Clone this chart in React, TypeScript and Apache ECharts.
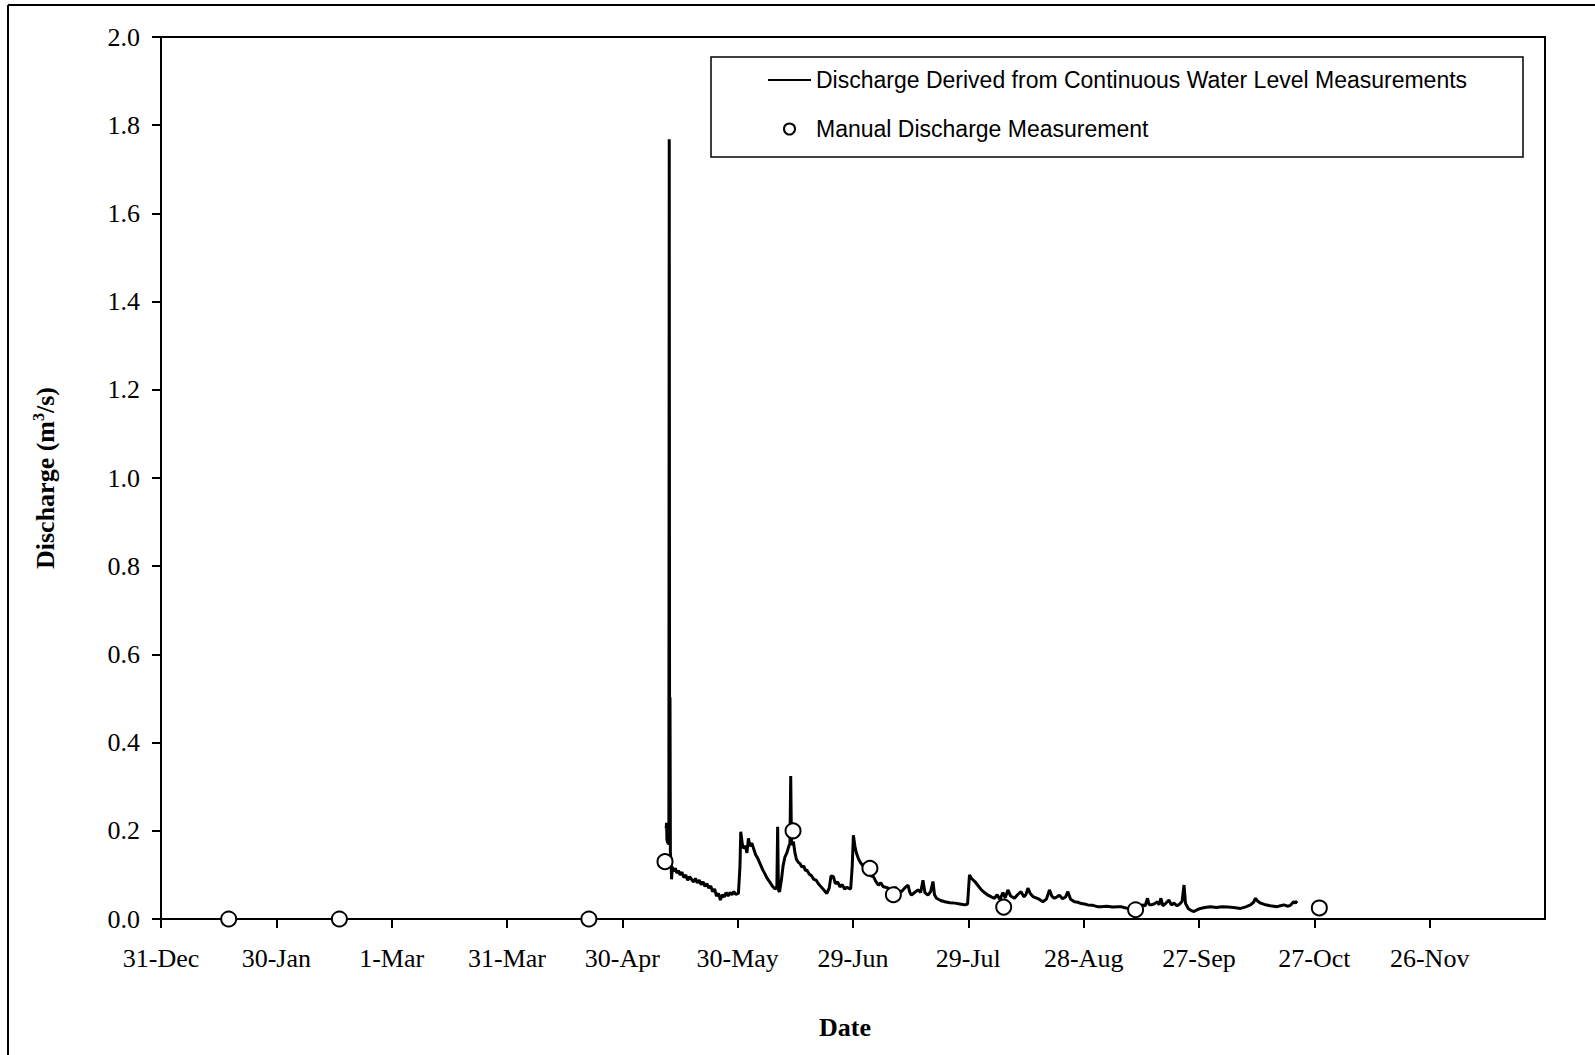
import React, { useEffect, useRef } from "react";
import * as echarts from "echarts";

// X axis: days since 31-Dec
const xTickDays = [0, 30, 60, 90, 120, 150, 180, 210, 240, 270, 300, 330];
const xTickLabels = ["31-Dec", "30-Jan", "1-Mar", "31-Mar", "30-Apr", "30-May", "29-Jun", "29-Jul", "28-Aug", "27-Sep", "27-Oct", "26-Nov"];

// Manual discharge measurements
const manualDays = [17.6, 46.4, 111.3, 131.1, 164.4, 184.4, 190.5, 219.2, 253.5, 301.3];
const manualValues = [0.0, 0.0, 0.0, 0.13, 0.2, 0.115, 0.055, 0.027, 0.021, 0.025];

// Continuous discharge record
const lineDays = [
  131.4, 131.5, 131.6, 131.8, 131.9, 132.0, 132.1, 132.2, 132.3, 132.4, 132.5, 132.7, 132.8, 133.0, 133.4, 133.8,
  134.2, 134.6, 135.0, 135.5, 136.0, 136.5, 137.0, 137.5, 138.0, 138.5, 139.0, 139.5, 140.0, 140.5, 141.0, 141.5,
  142.0, 142.5, 143.0, 143.5, 144.0, 144.5, 145.0, 145.5, 146.0, 146.5, 147.0, 147.5, 148.0, 148.5, 149.0, 149.5,
  150.2, 150.6, 150.8, 151.2, 151.6, 152.0, 152.4, 152.8, 153.2, 153.7, 154.2, 154.7, 155.2, 155.9, 156.5, 157.0,
  157.5, 158.0, 158.5, 159.0, 159.5, 159.9, 160.2, 160.4, 160.6, 160.9, 161.4, 161.8, 162.3, 162.8, 163.2, 163.6,
  163.8, 164.0, 164.5, 164.9, 165.3, 165.8, 166.2, 166.7, 167.2, 167.6, 168.0, 168.6, 169.2, 169.8, 170.4, 171.0,
  171.6, 172.2, 172.8, 173.2, 173.8, 174.3, 174.9, 175.4, 176.0, 176.6, 177.2, 177.8, 178.4, 178.8, 179.4, 179.8,
  180.1, 180.5, 180.9, 181.5, 182.1, 182.7, 183.3, 184.0, 184.6, 185.3, 185.9, 186.6, 187.2, 187.9, 188.5, 189.2,
  189.8, 190.4, 191.0, 191.6, 192.6, 193.4, 194.3, 194.8, 195.2, 196.0, 196.9, 197.6, 198.2, 198.7, 199.5, 200.2,
  200.8, 201.2, 201.7, 202.8, 203.9, 205.2, 206.5, 207.8, 209.1, 209.8, 210.3, 210.8, 211.7, 212.5, 213.4, 214.2,
  215.1, 216.0, 216.8, 217.5, 218.2, 219.0, 219.6, 220.3, 221.0, 222.0, 222.8, 223.7, 224.5, 225.0, 225.5, 226.1,
  226.8, 227.6, 228.4, 229.4, 230.3, 231.1, 231.7, 232.4, 233.0, 233.7, 234.5, 235.3, 235.9, 236.6, 237.6, 238.5,
  239.4, 240.2, 241.1, 242.4, 243.6, 244.5, 246.0, 247.5, 249.0, 249.7, 250.5, 251.4, 252.5, 253.6, 254.5, 255.3,
  256.0, 256.6, 257.0, 257.5, 258.3, 259.2, 259.6, 260.1, 260.6, 261.3, 262.2, 262.8, 263.5, 264.3, 265.0, 265.6,
  266.1, 266.5, 267.2, 268.0, 268.7, 269.5, 270.4, 271.5, 273.0, 274.5, 276.0, 277.5, 279.0, 280.8, 282.0, 283.4,
  284.2, 284.7, 285.3, 286.0, 287.0, 288.5, 290.3, 291.2, 292.1, 293.0, 293.8, 294.6, 295.1, 295.5,
];
const lineValues = [
  0.205, 0.218, 0.18, 0.172, 0.19, 0.175, 0.168, 1.768, 0.17, 0.503, 0.15, 0.127, 0.09, 0.118, 0.108, 0.115,
  0.104, 0.11, 0.1, 0.106, 0.094, 0.1, 0.088, 0.096, 0.09, 0.084, 0.092, 0.082, 0.088, 0.078, 0.084, 0.074,
  0.08, 0.07, 0.075, 0.062, 0.068, 0.052, 0.058, 0.043, 0.055, 0.05, 0.06, 0.052, 0.06, 0.055, 0.062, 0.056,
  0.058, 0.12, 0.198, 0.17, 0.16, 0.166, 0.15, 0.183, 0.165, 0.172, 0.158, 0.145, 0.138, 0.124, 0.112, 0.104,
  0.095, 0.088, 0.082, 0.075, 0.07, 0.068, 0.075, 0.209, 0.065, 0.062, 0.09, 0.12, 0.141, 0.15, 0.162, 0.172,
  0.324, 0.168, 0.175, 0.15, 0.135, 0.128, 0.126, 0.118, 0.12, 0.11, 0.111, 0.102, 0.098, 0.09, 0.088, 0.08,
  0.074, 0.068, 0.062, 0.058, 0.07, 0.098, 0.096, 0.08, 0.084, 0.073, 0.078, 0.068, 0.072, 0.07, 0.068, 0.12,
  0.19, 0.165, 0.149, 0.135, 0.126, 0.119, 0.11, 0.104, 0.098, 0.096, 0.086, 0.077, 0.082, 0.073, 0.072, 0.07,
  0.064, 0.062, 0.072, 0.065, 0.062, 0.07, 0.077, 0.06, 0.054, 0.06, 0.066, 0.06, 0.088, 0.06, 0.054, 0.062,
  0.085, 0.055, 0.047, 0.042, 0.039, 0.037, 0.036, 0.034, 0.032, 0.034, 0.1, 0.092, 0.085, 0.076, 0.066, 0.06,
  0.054, 0.05, 0.047, 0.055, 0.044, 0.06, 0.048, 0.066, 0.052, 0.047, 0.055, 0.062, 0.05, 0.056, 0.07, 0.058,
  0.051, 0.048, 0.045, 0.039, 0.045, 0.066, 0.052, 0.047, 0.05, 0.054, 0.046, 0.05, 0.062, 0.045, 0.039, 0.038,
  0.035, 0.034, 0.032, 0.031, 0.028, 0.028, 0.029, 0.027, 0.028, 0.028, 0.026, 0.024, 0.023, 0.024, 0.027, 0.032,
  0.03, 0.047, 0.033, 0.032, 0.034, 0.039, 0.032, 0.047, 0.03, 0.035, 0.043, 0.032, 0.036, 0.03, 0.034, 0.04,
  0.077, 0.035, 0.024, 0.019, 0.017, 0.021, 0.024, 0.026, 0.028, 0.026, 0.028, 0.027, 0.026, 0.024, 0.027, 0.032,
  0.038, 0.047, 0.04, 0.036, 0.033, 0.03, 0.028, 0.03, 0.032, 0.029, 0.031, 0.039, 0.036, 0.041,
];

const SERIF = '"Times New Roman", "Liberation Serif", serif';
const SANS = 'Arial, "Liberation Sans", sans-serif';

export default function App() {
  const ref = useRef<HTMLDivElement>(null);

  useEffect(() => {
    if (!ref.current) return;
    const chart = echarts.init(ref.current, undefined, { renderer: "svg" });
    const lineData = lineDays.map((d, i) => [d, lineValues[i]]);
    const manualData = manualDays.map((d, i) => [d, manualValues[i]]);

    chart.setOption({
      animation: false,
      backgroundColor: "#ffffff",
      grid: {
        left: 161,
        top: 37,
        width: 1384,
        height: 882,
        show: true,
        borderColor: "#000",
        borderWidth: 2,
        containLabel: false,
        outerBoundsMode: "none",
      },
      legend: {
        orient: "vertical",
        left: 767,
        top: 67,
        itemWidth: 43,
        itemHeight: 11,
        itemGap: 23,
        padding: 0,
        textStyle: { fontFamily: SANS, fontSize: 23, color: "#000", lineHeight: 26 },
        data: [
          { name: "Discharge Derived from Continuous Water Level Measurements", itemStyle: { opacity: 0 } },
          { name: "Manual Discharge Measurement" },
        ],
      },
      xAxis: {
        type: "value",
        min: 0,
        max: 360,
        interval: 30,
        name: "Date",
        nameLocation: "middle",
        nameGap: 95,
        nameTextStyle: { fontFamily: SERIF, fontSize: 26, fontWeight: "bold", color: "#000", padding: [0, 16, 0, 0] },
        axisLine: { show: true, onZero: false, lineStyle: { color: "#000", width: 2 } },
        axisTick: { show: true, length: 9, lineStyle: { color: "#000", width: 2 }, customValues: xTickDays },
        axisLabel: {
          fontFamily: SERIF,
          fontSize: 26,
          color: "#000",
          margin: 26,
          customValues: xTickDays,
          formatter: (v: number) => {
            const i = xTickDays.indexOf(Math.round(v));
            return i >= 0 ? xTickLabels[i] : "";
          },
        },
        splitLine: { show: false },
      },
      yAxis: {
        type: "value",
        min: 0,
        max: 2,
        interval: 0.2,
        name: "{b|Discharge (m}{s|3}{b|/s)}",
        nameLocation: "middle",
        nameGap: 101,
        nameTextStyle: {
          rich: {
            b: { fontFamily: SERIF, fontSize: 26, fontWeight: "bold", color: "#000", lineHeight: 30 },
            s: { fontFamily: SERIF, fontSize: 16, fontWeight: "bold", color: "#000", lineHeight: 16, verticalAlign: "top" },
          },
        },
        axisLine: { show: true, lineStyle: { color: "#000", width: 2 } },
        axisTick: { show: true, length: 9, lineStyle: { color: "#000", width: 2 } },
        axisLabel: {
          fontFamily: SERIF,
          fontSize: 26,
          color: "#000",
          margin: 21,
          formatter: (v: number) => v.toFixed(1),
        },
        splitLine: { show: false },
      },
      series: [
        {
          name: "Discharge Derived from Continuous Water Level Measurements",
          type: "line",
          data: lineData,
          symbol: "none",
          showSymbol: false,
          lineStyle: { color: "#000", width: 3 },
          itemStyle: { color: "#000" },
          z: 2,
        },
        {
          name: "Manual Discharge Measurement",
          type: "scatter",
          data: manualData,
          symbol: "circle",
          symbolSize: 15,
          itemStyle: { color: "#fff", borderColor: "#000", borderWidth: 2, opacity: 1 },
          z: 3,
        },
      ],
      graphic: [
        {
          type: "line",
          shape: { x1: 8, y1: 5, x2: 1595, y2: 5 },
          style: { stroke: "#000", lineWidth: 2 },
          silent: true,
        },
        {
          type: "line",
          shape: { x1: 8, y1: 5, x2: 8, y2: 1055 },
          style: { stroke: "#000", lineWidth: 2 },
          silent: true,
        },
        {
          type: "rect",
          shape: { x: 711, y: 57, width: 812, height: 100 },
          style: { fill: "none", stroke: "#000", lineWidth: 1.5 },
          silent: true,
          z: -1,
        },
      ],
    });

    return () => chart.dispose();
  }, []);

  return (
    <div
      ref={ref}
      style={{ position: "fixed", left: 0, top: 0, width: 1595, height: 1055, background: "#fff" }}
    />
  );
}
